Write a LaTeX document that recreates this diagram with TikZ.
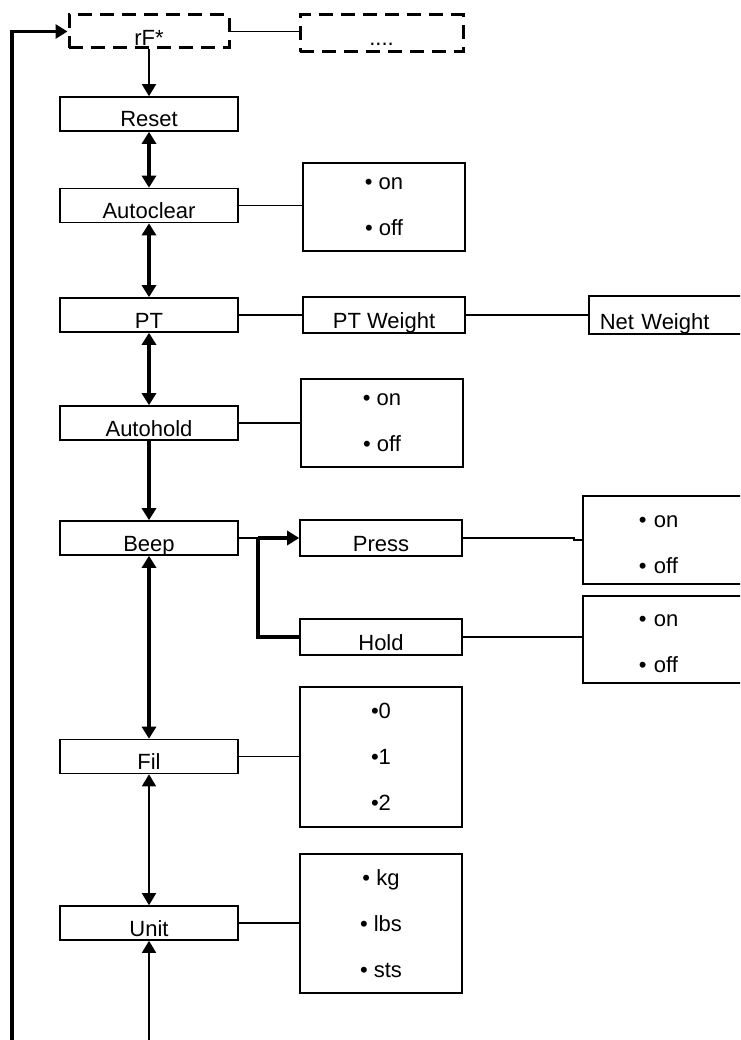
\documentclass[tikz,border=0pt]{standalone}
\usepackage{fontspec}
\setmainfont{Liberation Sans}
\usetikzlibrary{arrows.meta}

\begin{document}
\begin{tikzpicture}[x=1pt,y=-1pt]
\tikzset{menu/.style={draw,line width=1.6pt,minimum width=178pt,minimum height=34pt,inner sep=0pt,text height=30pt,text depth=4pt,font=\fontsize{22}{26}\selectfont},
sub/.style={menu,minimum width=162pt,minimum height=36pt,text height=31pt,text depth=5pt},
hidden/.style={menu,line width=3pt,dash pattern=on 14pt off 8pt},
opts/.style={draw,line width=1.6pt,minimum width=162pt,inner sep=0pt,align=center,font=\fontsize{22}{46}\selectfont,execute at begin node={\rule{0pt}{21pt}}},
cutopts/.style={opts,anchor=west,align=left,inner xsep=56pt,text width=88pt,minimum height=88pt},
link/.style={line width=1.5pt},
tip/.tip={Triangle[width=14pt,length=12pt]},
go/.style={line width=3.5pt,-tip},
twoway/.style={line width=3.5pt,tip-tip},
thinway/.style={line width=1.5pt,tip-tip},
thingo/.style={line width=1.5pt,-tip}}
\useasboundingbox (0,0) rectangle (740,1040);
\clip (0,0) rectangle (740,1040);
\node[hidden,minimum width=160pt,minimum height=33pt,text height=31pt,text depth=2pt] (rf) at (149,31.5) {rF*};
\node[hidden,minimum width=163pt,minimum height=37pt,text height=31pt,text depth=6pt] (more) at (381.5,33.5) {....};
\node[menu] (reset) at (149,114) {Reset};
\node[menu] (autoclear) at (149,205.5) {Autoclear};
\node[opts,minimum height=88pt] (acopt) at (384,207) {• on\\• off};
\node[menu] (pt) at (149,315) {PT};
\node[sub] (ptw) at (384,315) {PT Weight};
\node[sub,anchor=west,minimum width=200pt,minimum height=38pt,text height=33pt,text width=178pt,inner xsep=11pt,align=left] (net) at (588,315) {Net Weight};
\node[menu] (autohold) at (149,423) {Autohold};
\node[opts,minimum height=88pt] (ahopt) at (382,423) {• on\\• off};
\node[menu] (beep) at (149,538) {Beep};
\node[sub] (press) at (381,538) {Press};
\node[sub] (hold) at (381,637) {Hold};
\node[cutopts] (pressopt) at (582,540) {• on\\• off};
\node[cutopts,minimum height=87pt] (holdopt) at (582,639.5) {• on\\• off};
\node[menu] (fil) at (149,756.5) {Fil};
\node[opts,minimum height=140pt] (filopt) at (381,757) {•0\\•1\\•2};
\node[menu] (unit) at (149,923) {Unit};
\node[opts,minimum height=139pt] (unitopt) at (381,923.5) {• kg\\• lbs\\• sts};
\coordinate (lbot) at (12,1040);
\coordinate (ubot) at (149,1040);
\coordinate (split) at (258,538);
\draw[go] (lbot) |- (rf.west);
\draw[link] (rf.east) -- (rf.east -| more.west);
\draw[thingo] (rf.south) -- (reset.north);
\draw[twoway] (reset.south) -- (autoclear.north);
\draw[twoway] (autoclear.south) -- (pt.north);
\draw[twoway] (pt.south) -- (autohold.north);
\draw[go] (autohold.south) -- (beep.north);
\draw[twoway] (beep.south) -- (fil.north);
\draw[thinway] (fil.south) -- (unit.north);
\draw[thingo] (ubot) -- (unit.south);
\draw[link] (autoclear.east) -- (autoclear.east -| acopt.west);
\draw[link] (pt.east) -- (ptw.west);
\draw[link] (ptw.east) -- (net.west);
\draw[link] (autohold.east) -- (ahopt.west);
\draw[link] (beep.east) -- (split);
\draw[go] (split) -- (press.west);
\draw[line width=3.5pt] (split) |- (hold.west);
\draw[link] (press.east) -- ++(111,0) |- (pressopt.west);
\draw[link] (hold.east) -- (hold.east -| holdopt.west);
\draw[link] (fil.east) -- (fil.east -| filopt.west);
\draw[link] (unit.east) -- (unit.east -| unitopt.west);
\end{tikzpicture}
\end{document}
